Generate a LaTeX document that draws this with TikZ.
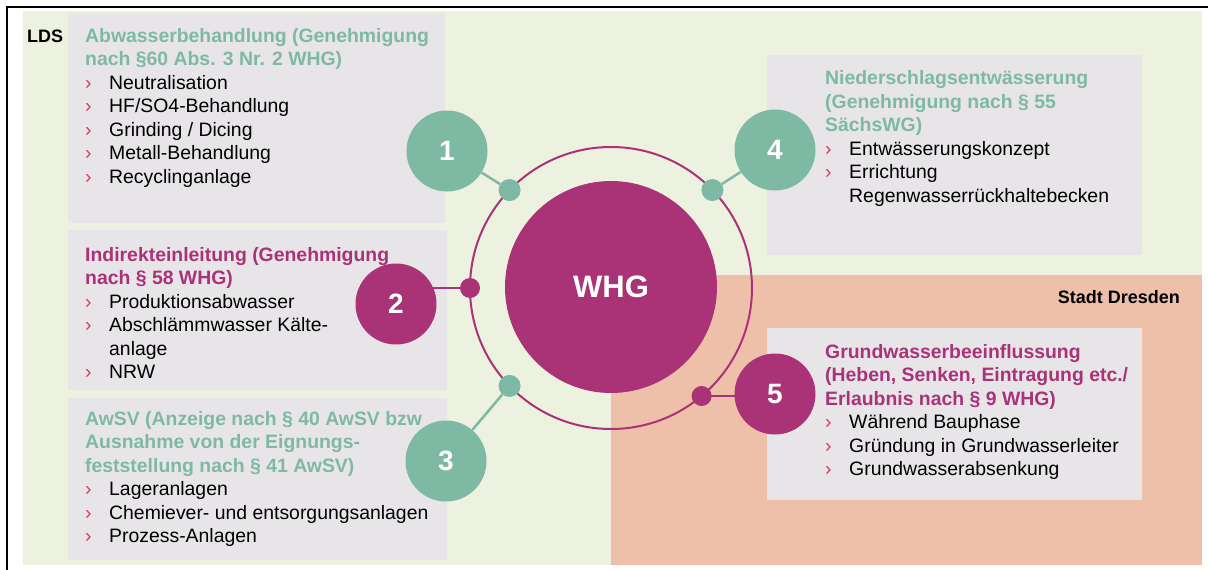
\documentclass[tikz,border=0pt]{standalone}
\usepackage{xcolor}
\usepackage{fontspec}
\setmainfont{Liberation Sans}
\usetikzlibrary{calc}
\pgfdeclarelayer{background}
\pgfdeclarelayer{wires}
\pgfsetlayers{background,wires,main}

\definecolor{slidebg}{RGB}{237,241,224}
\definecolor{boxgrey}{RGB}{232,229,233}
\definecolor{dresden}{RGB}{238,192,170}
\definecolor{tealc}{RGB}{126,185,163}
\definecolor{magc}{RGB}{170,50,118}
\definecolor{bulc}{RGB}{226,48,98}

\newcommand\tealhd[1]{{\bfseries\color{tealc}#1}}
\newcommand\maghd[1]{{\bfseries\color{magc}#1}}
\newcommand\itm{\makebox[24pt][l]{\textcolor{bulc}{›}}}
\newcommand\cont{\hspace*{24pt}}

\tikzset{
    numc/.style={circle, minimum size=81pt, inner sep=0pt, text=white, font=\fontsize{28}{28}\selectfont\bfseries},
    ringdot/.style={circle, minimum size=22pt, inner sep=0pt},
    boxtext/.style={anchor=base west, inner sep=0pt, font=\fontsize{19.4}{23.5}\selectfont},
    region/.style={inner sep=0pt, font=\fontsize{18}{18}\selectfont\bfseries},
    tealwire/.style={draw=tealc, line width=2.5pt},
    magwire/.style={draw=magc, line width=2.5pt},
}

\begin{document}
\begin{tikzpicture}[x=1pt,y=-1pt]
    \def\rring{141}
    \useasboundingbox (0,0) rectangle (1208,570);
    \begin{pgfonlayer}{background}
        \fill[white] (0,0) rectangle (1208,570);
        \fill[slidebg] (23,11) rectangle (1202,565);
        \fill[dresden] (611,275) rectangle (1202,565);
        \fill[boxgrey] (68,13) rectangle (445,223);
        \fill[boxgrey] (68,230) rectangle (447,390);
        \fill[boxgrey] (68,398) rectangle (447,560);
        \fill[boxgrey] (767,55) rectangle (1142,255);
        \fill[boxgrey] (767,328) rectangle (1142,500);
    \end{pgfonlayer}
    \draw[line width=2.4pt] (7,570) -- (7,7) -- (1208,7);

    \node[region, anchor=base west] (lds) at (27,42) {LDS};
    \node[region, anchor=base east] (dd) at (1180,303) {Stadt Dresden};

    \node[circle, fill=magc, minimum size=212pt, inner sep=0pt, text=white,
        font=\fontsize{31}{31}\selectfont\bfseries] (whg) at (611,287) {WHG};
    \node[circle, draw=magc, line width=2pt, minimum size=2*\rring pt, inner sep=0pt, outer sep=0pt] (ring) at (611,288) {};
    \node[ringdot, fill=tealc] (d1) at (ring.136) {};
    \node[ringdot, fill=magc, minimum size=20pt] (d2) at (ring.180) {};
    \node[ringdot, fill=tealc] (d3) at (ring.224) {};
    \node[ringdot, fill=tealc] (d4) at (ring.44) {};
    \node[ringdot, fill=magc, minimum size=20pt] (d5) at (ring.-50) {};

    \node[numc, fill=tealc] (n1) at (447,151) {1};
    \node[numc, fill=magc] (n2) at (396,304) {2};
    \node[numc, fill=tealc] (n3) at (446,461) {3};
    \node[numc, fill=tealc] (n4) at (775,150) {4};
    \node[numc, fill=magc] (n5) at (775,394) {5};

    \begin{pgfonlayer}{wires}
        \draw[tealwire] (n1) -- (d1);
        \draw[magwire] (d2.center) -- (d2.center -| n2.center);
        \draw[tealwire] (n3) -- (d3);
        \draw[tealwire] (n4) -- (d4);
        \draw[magwire] (d5.center) -- (d5.center -| n5.center);
    \end{pgfonlayer}

    \node[boxtext] (t1) at (85,42) {\begin{tabular}[t]{@{}l@{}}
        \tealhd{Abwasserbehandlung (Genehmigung}\\
        \tealhd{nach §60 Abs. 3 Nr. 2 WHG)}\\
        \itm Neutralisation\\
        \itm HF/SO4-Behandlung\\
        \itm Grinding / Dicing\\
        \itm Metall-Behandlung\\
        \itm Recyclinganlage
    \end{tabular}};
    \node[boxtext] (t2) at (85,261) {\begin{tabular}[t]{@{}l@{}}
        \maghd{Indirekteinleitung (Genehmigung}\\
        \maghd{nach § 58 WHG)}\\
        \itm Produktionsabwasser\\
        \itm Abschlämmwasser Kälte-\\
        \cont anlage\\
        \itm NRW
    \end{tabular}};
    \node[boxtext] (t3) at (85,425) {\begin{tabular}[t]{@{}l@{}}
        \tealhd{AwSV (Anzeige nach § 40 AwSV bzw}\\
        \tealhd{Ausnahme von der Eignungs-}\\
        \tealhd{feststellung nach § 41 AwSV)}\\
        \itm Lageranlagen\\
        \itm Chemiever- und entsorgungsanlagen\\
        \itm Prozess-Anlagen
    \end{tabular}};
    \node[boxtext] (t4) at (825,84.5) {\begin{tabular}[t]{@{}l@{}}
        \tealhd{Niederschlagsentwässerung}\\
        \tealhd{(Genehmigung nach § 55}\\
        \tealhd{SächsWG)}\\
        \itm Entwässerungskonzept\\
        \itm Errichtung\\
        \cont Regenwasserrückhaltebecken
    \end{tabular}};
    \node[boxtext] (t5) at (825,358) {\begin{tabular}[t]{@{}l@{}}
        \maghd{Grundwasserbeeinflussung}\\
        \maghd{(Heben, Senken, Eintragung etc./}\\
        \maghd{Erlaubnis nach § 9 WHG)}\\
        \itm Während Bauphase\\
        \itm Gründung in Grundwasserleiter\\
        \itm Grundwasserabsenkung
    \end{tabular}};
\end{tikzpicture}
\end{document}
